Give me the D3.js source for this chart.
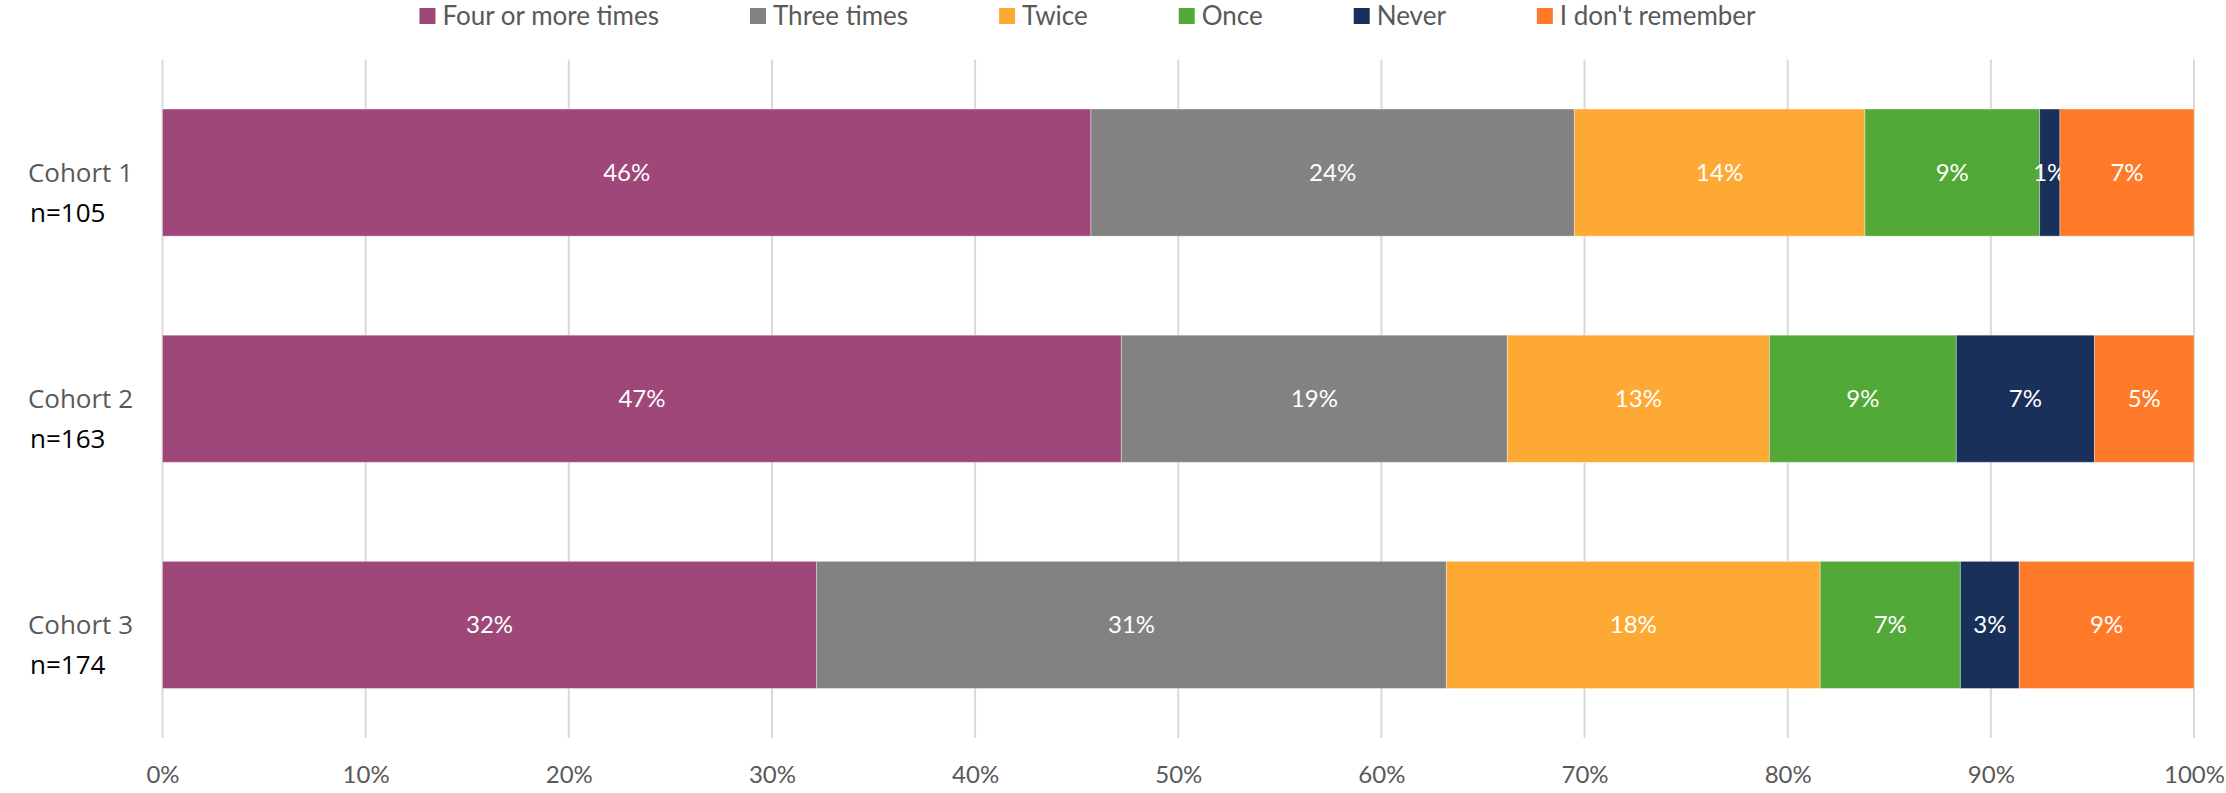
<!DOCTYPE html>
<html>
<head>
<meta charset="utf-8">
<script src="https://cdn.jsdelivr.net/npm/d3@7"></script>
<style>
  html, body { margin: 0; padding: 0; background: #fff; }
  svg { display: block; }
</style>
</head>
<body>
<svg id="chart" width="2226" height="793"></svg>
<script>
// Cohorts and their sample sizes
const cohorts = ["Cohort 1", "Cohort 2", "Cohort 3"];
const sampleSizes = ["n=105", "n=163", "n=174"];

// Response categories (stack order, left to right)
const responses = ["Four or more times", "Three times", "Twice", "Once", "Never", "I don't remember"];
const colors = ["#9E4778", "#828282", "#FDA933", "#53A937", "#19305A", "#FE7A29"];

// Share of each cohort giving each response, in percent
const fourOrMore   = [45.7, 47.2, 32.2];
const threeTimes   = [23.8, 19.0, 31.0];
const twice        = [14.3, 12.9, 18.4];
const once         = [8.6,  9.2,  6.9];
const never        = [1.0,  6.8,  2.9];
const dontRemember = [6.6,  4.9,  8.6];

// Axis ticks
const tickValues = [0, 10, 20, 30, 40, 50, 60, 70, 80, 90, 100];

const seriesValues = [fourOrMore, threeTimes, twice, once, never, dontRemember];
const rows = cohorts.map((c, i) => {
  const r = { cohort: c };
  responses.forEach((k, j) => { r[k] = seriesValues[j][i]; });
  return r;
});

const svg = d3.select("#chart");
const plot = { left: 162.5, right: 2194, top: 59.5, bottom: 738 };

const x = d3.scaleLinear().domain([0, 100]).range([plot.left, plot.right]);
const y = d3.scaleBand().domain(cohorts).range([plot.top, plot.bottom])
  .paddingInner(0.438).paddingOuter(0.219);
const color = d3.scaleOrdinal().domain(responses).range(colors);

// Vertical gridlines
svg.append("g")
  .selectAll("line")
  .data(tickValues)
  .join("line")
  .attr("x1", d => x(d)).attr("x2", d => x(d))
  .attr("y1", plot.top).attr("y2", plot.bottom)
  .attr("stroke", "#d9d9d9")
  .attr("stroke-width", 2);

// Bottom axis labels
const xAxis = d3.axisBottom(x).tickValues(tickValues).tickFormat(d => d + "%").tickSize(0).tickPadding(0);
const axisG = svg.append("g").attr("transform", `translate(0,${plot.bottom})`).call(xAxis);
axisG.select(".domain").remove();
axisG.selectAll("text")
  .attr("y", 45)
  .attr("dy", 0)
  .attr("font-family", "Lato, 'Open Sans', sans-serif")
  .attr("font-size", 24)
  .attr("fill", "#595959");

// Stacked bars
const stacked = d3.stack().keys(responses)(rows);
const layers = svg.append("g")
  .selectAll("g")
  .data(stacked)
  .join("g")
  .attr("fill", d => color(d.key));

layers.selectAll("rect")
  .data(d => d)
  .join("rect")
  .attr("x", d => x(d[0]))
  .attr("width", d => x(d[1]) - x(d[0]))
  .attr("y", d => y(d.data.cohort))
  .attr("height", y.bandwidth())
  .attr("stroke", "#ffffff")
  .attr("stroke-opacity", 0.35)
  .attr("stroke-width", 1);

// Value labels centred in each segment
const fmt = v => Math.round(v) + "%";
layers.selectAll("text")
  .data(d => d)
  .join("text")
  .attr("x", d => (x(d[0]) + x(d[1])) / 2)
  .attr("y", d => y(d.data.cohort) + y.bandwidth() / 2)
  .attr("dy", "0.35em")
  .attr("text-anchor", "middle")
  .attr("font-family", "Lato, 'Open Sans', sans-serif")
  .attr("font-size", 24)
  .attr("fill", "#ffffff")
  .text(d => fmt(d[1] - d[0]));

// Category labels with sample sizes
const catG = svg.append("g");
catG.selectAll("text.cohort")
  .data(cohorts)
  .join("text")
  .attr("class", "cohort")
  .attr("x", 133)
  .attr("y", d => y(d) + y.bandwidth() / 2 + 9)
  .attr("text-anchor", "end")
  .attr("font-family", "'Open Sans', sans-serif")
  .attr("font-size", 26)
  .attr("fill", "#595959")
  .text(d => d);

catG.selectAll("text.n")
  .data(cohorts)
  .join("text")
  .attr("class", "n")
  .attr("x", 30)
  .attr("y", d => y(d) + y.bandwidth() / 2 + 49)
  .attr("font-family", "'Open Sans', sans-serif")
  .attr("font-size", 26)
  .attr("fill", "#000000")
  .text((d, i) => sampleSizes[i]);

// Legend across the top
const legend = svg.append("g");
const items = legend.selectAll("g")
  .data(responses)
  .join("g");
items.append("rect")
  .attr("width", 16).attr("height", 16)
  .attr("y", 8)
  .attr("fill", d => color(d));
items.append("text")
  .attr("x", 23)
  .attr("y", 25)
  .attr("font-family", "Lato, 'Open Sans', sans-serif")
  .attr("font-size", 26)
  .attr("fill", "#595959")
  .text(d => d);

const gap = 91;
let widths = [];
items.each(function () {
  widths.push(23 + d3.select(this).select("text").node().getComputedTextLength());
});
const total = d3.sum(widths) + gap * (widths.length - 1);
let cursor = 1087.5 - total / 2;
items.attr("transform", (d, i) => {
  const t = `translate(${cursor},0)`;
  cursor += widths[i] + gap;
  return t;
});
</script>
</body>
</html>
